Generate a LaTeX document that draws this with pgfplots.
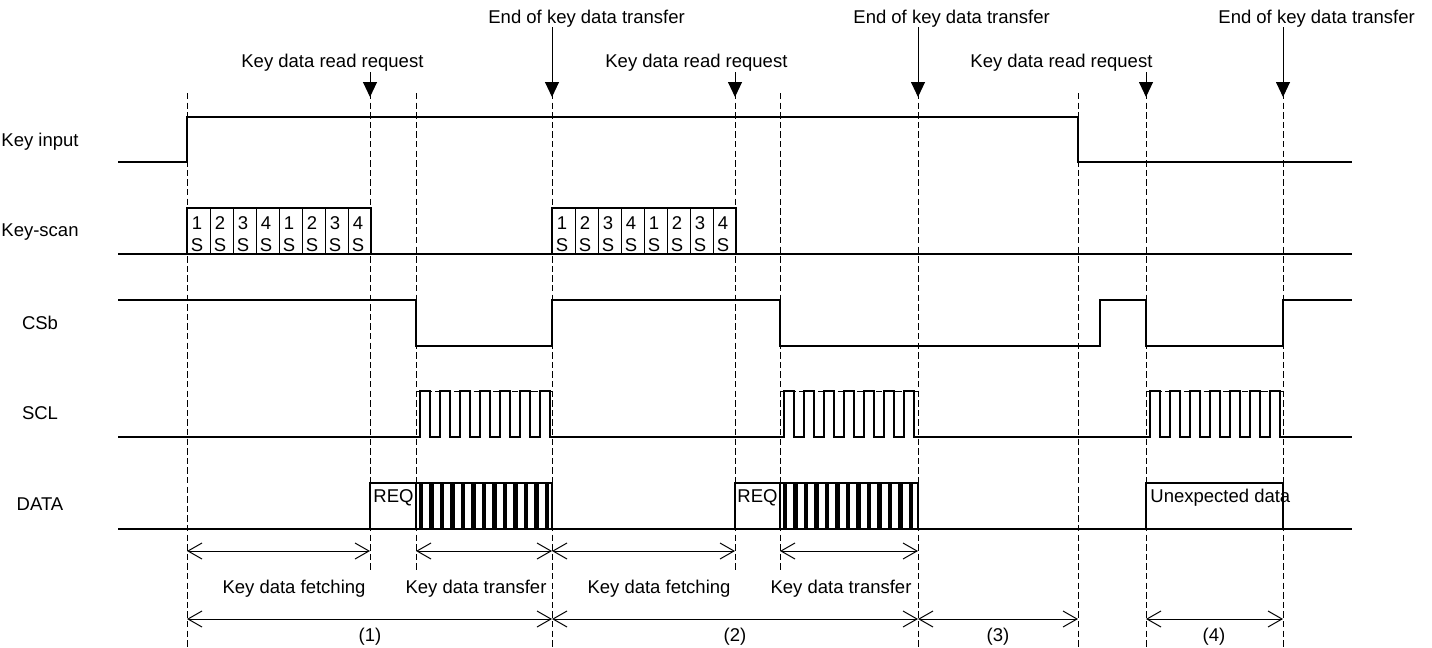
\documentclass[border=0pt]{standalone}
\usepackage{pgfplots}
\pgfplotsset{compat=1.18}
\usepackage{fontspec}
\setmainfont{Liberation Sans}
\usetikzlibrary{arrows.meta}
\begin{document}
\begin{tikzpicture}[
  lbl/.style={font=\fontsize{9.25}{11}\selectfont, inner sep=0pt},
  wave/.style={black, line width=0.6pt},
  guide/.style={black, line width=0.5pt, dash pattern=on 3.2pt off 1.6pt},
  span/.style={black, line width=0.5pt, {Straight Barb[length=7pt,width=8pt]}-{Straight Barb[length=7pt,width=8pt]}},
  down/.style={black, line width=0.5pt, -{Triangle[length=7.5pt,width=7pt]}},
]
\begin{axis}[
  width=716pt, height=323.5pt, scale only axis,
  xmin=0, xmax=1432, ymin=0, ymax=647, y dir=reverse,
  hide axis, clip=false,
]
% page frame
\addplot[draw=none] coordinates {(0,0)(1432,647)};

% dashed guides
\addplot[guide] coordinates {(187,93)(187,647)};
\addplot[guide] coordinates {(370,93)(370,570)};
\addplot[guide] coordinates {(416,93)(416,570)};
\addplot[guide] coordinates {(552,93)(552,647)};
\addplot[guide] coordinates {(735,93)(735,570)};
\addplot[guide] coordinates {(780,93)(780,570)};
\addplot[guide] coordinates {(918,93)(918,647)};
\addplot[guide] coordinates {(1078,93)(1078,647)};
\addplot[guide] coordinates {(1146,93)(1146,647)};
\addplot[guide] coordinates {(1283,93)(1283,647)};

% Key input
\addplot[wave] coordinates {(118,162)(187,162)(187,117)(1078,117)(1078,162)(1352,162)};

% Key-scan
\addplot[wave] coordinates {(118,254)(1352,254)};
\addplot[wave] coordinates {(187,254)(187,208)(371,208)(371,254)};
\addplot[wave] coordinates {(552,254)(552,208)(736,208)(736,254)};
\pgfplotsinvokeforeach{210,233,256,279,302,325,348,575,598,621,644,667,690,713}{
  \addplot[wave, line width=0.4pt] coordinates {(#1,208)(#1,254)};
}

% CSb
\addplot[wave] coordinates {(118,300)(416,300)(416,346)(552,346)(552,300)(780,300)(780,346)(1100,346)(1100,300)(1146,300)(1146,346)(1283,346)(1283,300)(1352,300)};

% SCL
\addplot[wave, const plot] coordinates {(118,437)(416,437)};
\addplot[wave, const plot, line width=0.9pt] coordinates {
  (416,437)(420,391)(430,437)(440,391)(450,437)(460,391)(470,437)(480,391)(490,437)(500,391)(510,437)(520,391)(530,437)(540,391)(550,437)(552,437)};
\addplot[wave] coordinates {(552,437)(780,437)};
\addplot[wave, const plot, line width=0.9pt] coordinates {
  (780,437)(784,391)(794,437)(804,391)(814,437)(824,391)(834,437)(844,391)(854,437)(864,391)(874,437)(884,391)(894,437)(904,391)(914,437)(918,437)};
\addplot[wave] coordinates {(918,437)(1146,437)};
\addplot[wave, const plot, line width=0.9pt] coordinates {
  (1146,437)(1150,391)(1160,437)(1170,391)(1180,437)(1190,391)(1200,437)(1210,391)(1220,437)(1230,391)(1240,437)(1250,391)(1260,437)(1270,391)(1280,437)(1283,437)};
\addplot[wave] coordinates {(1283,437)(1352,437)};
\addplot[guide] coordinates {(416,391)(552,391)};
\addplot[guide] coordinates {(780,391)(918,391)};
\addplot[guide] coordinates {(1146,391)(1283,391)};

% DATA
\addplot[wave] coordinates {(118,529)(1352,529)};
\addplot[wave] coordinates {(370,529)(370,483)(552,483)(552,529)};
\addplot[wave] coordinates {(416,483)(416,529)};
\addplot[wave] coordinates {(735,529)(735,483)(918,483)(918,529)};
\addplot[wave] coordinates {(780,483)(780,529)};
\addplot[wave] coordinates {(1146,529)(1146,483)(1283,483)(1283,529)};
\addplot[only marks, mark=|, mark size=11.5pt, mark options={line width=2.4pt}] coordinates {
  (421,506)(431.5,506)(442,506)(452.5,506)(463,506)(473.5,506)(484,506)(494.5,506)(505,506)(515.5,506)(526,506)(536.5,506)(547,506)
  (785,506)(795.5,506)(806,506)(816.5,506)(827,506)(837.5,506)(848,506)(858.5,506)(869,506)(879.5,506)(890,506)(900.5,506)(911,506)};

% spans
\addplot[span] coordinates {(187,551)(370,551)};
\addplot[span] coordinates {(416,551)(552,551)};
\addplot[span] coordinates {(552,551)(735,551)};
\addplot[span] coordinates {(780,551)(918,551)};
\addplot[span] coordinates {(187,619)(552,619)};
\addplot[span] coordinates {(552,619)(918,619)};
\addplot[span] coordinates {(918,619)(1078,619)};
\addplot[span] coordinates {(1146,619)(1283,619)};

% event arrows
\addplot[down] coordinates {(370,72)(370,97)};
\addplot[down] coordinates {(735,72)(735,97)};
\addplot[down] coordinates {(1146,72)(1146,97)};
\addplot[down] coordinates {(552,27)(552,97)};
\addplot[down] coordinates {(918,27)(918,97)};
\addplot[down] coordinates {(1283,27)(1283,97)};

% texts
\node[lbl, anchor=west] at (axis cs:241,63) {Key data read request};
\node[lbl, anchor=west] at (axis cs:605,63) {Key data read request};
\node[lbl, anchor=west] at (axis cs:970,63) {Key data read request};
\node[lbl, anchor=west] at (axis cs:488,19) {End of key data transfer};
\node[lbl, anchor=west] at (axis cs:853,19) {End of key data transfer};
\node[lbl, anchor=west] at (axis cs:1218,19) {End of key data transfer};

\node[lbl] at (axis cs:40,142) {Key input};
\node[lbl] at (axis cs:40,232) {Key-scan};
\node[lbl] at (axis cs:40,323) {CSb};
\node[lbl] at (axis cs:40,413) {SCL};
\node[lbl] at (axis cs:40,504) {DATA};

% key-scan cell texts
\node[lbl] at (axis cs:197,223) {1};  \node[lbl] at (axis cs:197,245) {S};
\node[lbl] at (axis cs:220,223) {2};  \node[lbl] at (axis cs:220,245) {S};
\node[lbl] at (axis cs:243,223) {3};  \node[lbl] at (axis cs:243,245) {S};
\node[lbl] at (axis cs:266,223) {4};  \node[lbl] at (axis cs:266,245) {S};
\node[lbl] at (axis cs:289,223) {1};  \node[lbl] at (axis cs:289,245) {S};
\node[lbl] at (axis cs:312,223) {2};  \node[lbl] at (axis cs:312,245) {S};
\node[lbl] at (axis cs:335,223) {3};  \node[lbl] at (axis cs:335,245) {S};
\node[lbl] at (axis cs:358,223) {4};  \node[lbl] at (axis cs:358,245) {S};
\node[lbl] at (axis cs:562,223) {1};  \node[lbl] at (axis cs:562,245) {S};
\node[lbl] at (axis cs:585,223) {2};  \node[lbl] at (axis cs:585,245) {S};
\node[lbl] at (axis cs:608,223) {3};  \node[lbl] at (axis cs:608,245) {S};
\node[lbl] at (axis cs:631,223) {4};  \node[lbl] at (axis cs:631,245) {S};
\node[lbl] at (axis cs:654,223) {1};  \node[lbl] at (axis cs:654,245) {S};
\node[lbl] at (axis cs:677,223) {2};  \node[lbl] at (axis cs:677,245) {S};
\node[lbl] at (axis cs:700,223) {3};  \node[lbl] at (axis cs:700,245) {S};
\node[lbl] at (axis cs:723,223) {4};  \node[lbl] at (axis cs:723,245) {S};

\node[lbl, anchor=west] at (axis cs:373,498) {REQ};
\node[lbl, anchor=west] at (axis cs:737,498) {REQ};
\node[lbl, anchor=west] at (axis cs:1150,498) {Unexpected data};

\node[lbl] at (axis cs:294,589) {Key data fetching};
\node[lbl] at (axis cs:476,589) {Key data transfer};
\node[lbl] at (axis cs:659,589) {Key data fetching};
\node[lbl] at (axis cs:841,589) {Key data transfer};
\node[lbl] at (axis cs:370,637) {(1)};
\node[lbl] at (axis cs:735,637) {(2)};
\node[lbl] at (axis cs:998,637) {(3)};
\node[lbl] at (axis cs:1214,637) {(4)};
\end{axis}
\end{tikzpicture}
\end{document}
